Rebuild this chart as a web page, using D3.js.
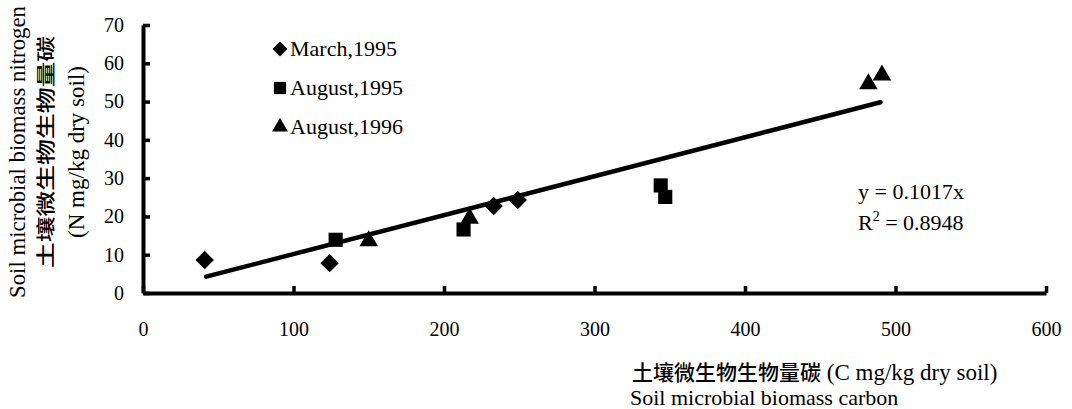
<!DOCTYPE html>
<html>
<head>
<meta charset="utf-8">
<script src="https://cdn.jsdelivr.net/npm/d3@7"></script>
<style>
  body { margin: 0; background: #fff; }
  text { fill: #000; }
  .serif { font-family: "Liberation Serif", "DejaVu Serif", serif; }
  .cjk { font-family: "Noto Sans CJK SC", sans-serif; font-weight: 500; }
</style>
</head>
<body>
<svg id="chart" width="1072" height="409"></svg>
<script>
// data
const seriesNames = ['March,1995', 'August,1995', 'August,1996'];
const march1995 = [[41, 8.6], [124, 7.8], [233, 22.7], [249, 24.3]];
const august1995 = [[128, 13.9], [213, 16.6], [344, 28.1], [347, 25.1]];
const august1996 = [[150, 13.6], [217, 19.5], [482, 54.6], [491, 56.9]];
const slope = 0.1017;
const fitRange = [42, 490];
const xTicks = [0, 100, 200, 300, 400, 500, 600];
const yTicks = [0, 10, 20, 30, 40, 50, 60, 70];

const svg = d3.select('#chart');

const x = d3.scaleLinear().domain([0, 600]).range([143, 1046]);
const y = d3.scaleLinear().domain([0, 70]).range([293, 25]);

// axes, no outer ticks, small bumps drawn inward below
const xAxis = d3.axisBottom(x).tickValues(xTicks).tickSize(0).tickPadding(29);
const yAxis = d3.axisLeft(y).tickValues(yTicks).tickSize(0).tickPadding(19);

const gx = svg.append('g').attr('transform', `translate(0,${y(0)})`).call(xAxis);
const gy = svg.append('g').attr('transform', `translate(${x(0)},0)`).call(yAxis);

[gx, gy].forEach(g => {
  g.select('.domain').attr('stroke', '#000').attr('stroke-width', 4);
  g.selectAll('text')
    .attr('class', 'serif')
    .style('font-size', '20px')
    .attr('fill', '#000');
});

gx.selectAll('.tick').append('line')
  .attr('y1', 0).attr('y2', -7)
  .attr('stroke', '#000').attr('stroke-width', 3.5);
gy.selectAll('.tick').append('line')
  .attr('x1', 0).attr('x2', 7)
  .attr('stroke', '#000').attr('stroke-width', 3.5);

// fitted line y = 0.1017x
svg.append('line')
  .attr('x1', x(fitRange[0])).attr('y1', y(slope * fitRange[0]))
  .attr('x2', x(fitRange[1])).attr('y2', y(slope * fitRange[1]))
  .attr('stroke', '#000').attr('stroke-width', 4.5)
  .attr('stroke-linecap', 'round');

// markers
const shapes = [
  { data: march1995, sym: d3.symbolSquare, size: 170, rot: 45 },
  { data: august1995, sym: d3.symbolSquare, size: 200, rot: 0 },
  { data: august1996, sym: d3.symbolTriangle, size: 150, rot: 0 },
];

shapes.forEach(s => {
  svg.append('g')
    .selectAll('path')
    .data(s.data)
    .join('path')
    .attr('d', d3.symbol(s.sym, s.size))
    .attr('transform', d => `translate(${x(d[0])},${y(d[1])}) rotate(${s.rot})`)
    .attr('fill', '#000');
});

// legend
const legend = svg.append('g').attr('transform', 'translate(280,49)');
const legendSizes = [110, 150, 110];
seriesNames.forEach((name, i) => {
  const g = legend.append('g').attr('transform', `translate(0,${i * 39})`);
  g.append('path')
    .attr('d', d3.symbol(shapes[i].sym, legendSizes[i]))
    .attr('transform', `rotate(${shapes[i].rot})`)
    .attr('fill', '#000');
  g.append('text')
    .attr('class', 'serif')
    .attr('x', 10).attr('y', 7)
    .style('font-size', '22px')
    .text(name);
});

// equation
svg.append('text').attr('class', 'serif').style('font-size', '22px')
  .attr('x', 858).attr('y', 199).text('y = 0.1017x');
const r2 = svg.append('text').attr('class', 'serif').style('font-size', '22px')
  .attr('x', 858).attr('y', 230);
r2.append('tspan').text('R');
r2.append('tspan').attr('dy', -9).style('font-size', '14px').text('2');
r2.append('tspan').attr('dy', 9).text(' = 0.8948');

// x title
const xt = svg.append('text').attr('x', 632).attr('y', 380);
xt.append('tspan').attr('class', 'cjk').style('font-size', '21px').text('土壤微生物生物量碳');
xt.append('tspan').attr('class', 'serif').style('font-size', '23px').text(' (C mg/kg dry soil)');
svg.append('text').attr('class', 'serif')
  .attr('x', 630).attr('y', 405)
  .style('font-size', '22px')
  .text('Soil microbial biomass carbon');

// y title, three rotated lines
const yTitle = [
  { t: 'Soil microbial biomass nitrogen', x: 25, cls: 'serif', fs: 23, len: 292 },
  { t: '土壤微生物生物量碳', x: 53, cls: 'cjk', fs: 19, len: 232 },
  { t: '(N mg/kg dry soil)', x: 84, cls: 'serif', fs: 23, len: 0 },
];
yTitle.forEach(l => {
  const t = svg.append('text')
    .attr('class', l.cls)
    .attr('transform', `translate(${l.x},152) rotate(-90)`)
    .attr('text-anchor', 'middle')
    .style('font-size', l.fs + 'px')
    .text(l.t);
  if (l.len) t.attr('textLength', l.len).attr('lengthAdjust', 'spacingAndGlyphs');
});
</script>
</body>
</html>
